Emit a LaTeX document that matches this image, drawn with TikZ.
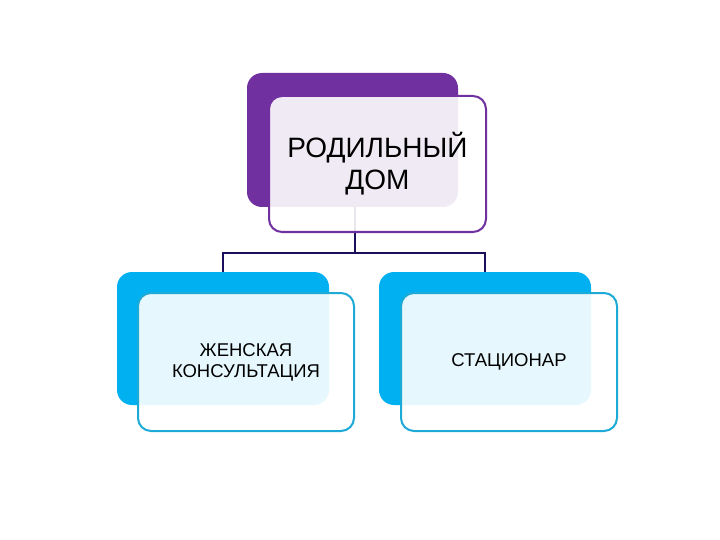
\documentclass[tikz,border=0pt]{standalone}
\usepackage{fontspec}
\setmainfont{Liberation Sans}
\definecolor{purp}{RGB}{112,48,160}
\definecolor{cyanb}{RGB}{0,176,240}
\definecolor{cyanl}{RGB}{30,170,215}
\definecolor{navy}{RGB}{25,15,90}
\begin{document}
\begin{tikzpicture}[x=1pt,y=-1pt,
  backbox/.style={rectangle,rounded corners=15pt,inner sep=0pt,outer sep=0pt,anchor=north west},
  frontbox/.style={rectangle,rounded corners=13pt,inner sep=0pt,outer sep=0pt,anchor=north west,
    fill=white,fill opacity=0.9,text opacity=1,line width=2pt,align=center,text=black},
  conn/.style={draw=navy,line width=2pt},
  bigtxt/.style={font=\fontsize{28}{32}\selectfont},
  smalltxt/.style={font=\fontsize{18.5}{21}\selectfont}]
\useasboundingbox (0,0) rectangle (720,540);
\fill[white] (0,0) rectangle (720,540);
% back boxes
\node[backbox,fill=purp,minimum width=211pt,minimum height=134pt] (topback) at (247,73) {};
\node[backbox,fill=cyanb,minimum width=212pt,minimum height=133pt] (leftback) at (117,272) {};
\node[backbox,fill=cyanb,minimum width=212pt,minimum height=133pt] (rightback) at (379,272) {};
% connectors
\coordinate (junc) at (355,253);
\draw[conn] (topback.south -| junc) -- (junc);
\draw[conn] (leftback.north) |- (junc) -| (rightback.north);
% front boxes with texts
\node[frontbox,bigtxt,draw=purp,minimum width=217pt,minimum height=136pt] (topfront) at (269,96) {РОДИЛЬНЫЙ\\ДОМ};
\node[frontbox,smalltxt,draw=cyanl,minimum width=216pt,minimum height=138pt] (leftfront) at (138,293) {ЖЕНСКАЯ\\КОНСУЛЬТАЦИЯ};
\node[frontbox,smalltxt,draw=cyanl,minimum width=216pt,minimum height=138pt] (rightfront) at (401,293) {СТАЦИОНАР};
\end{tikzpicture}
\end{document}
